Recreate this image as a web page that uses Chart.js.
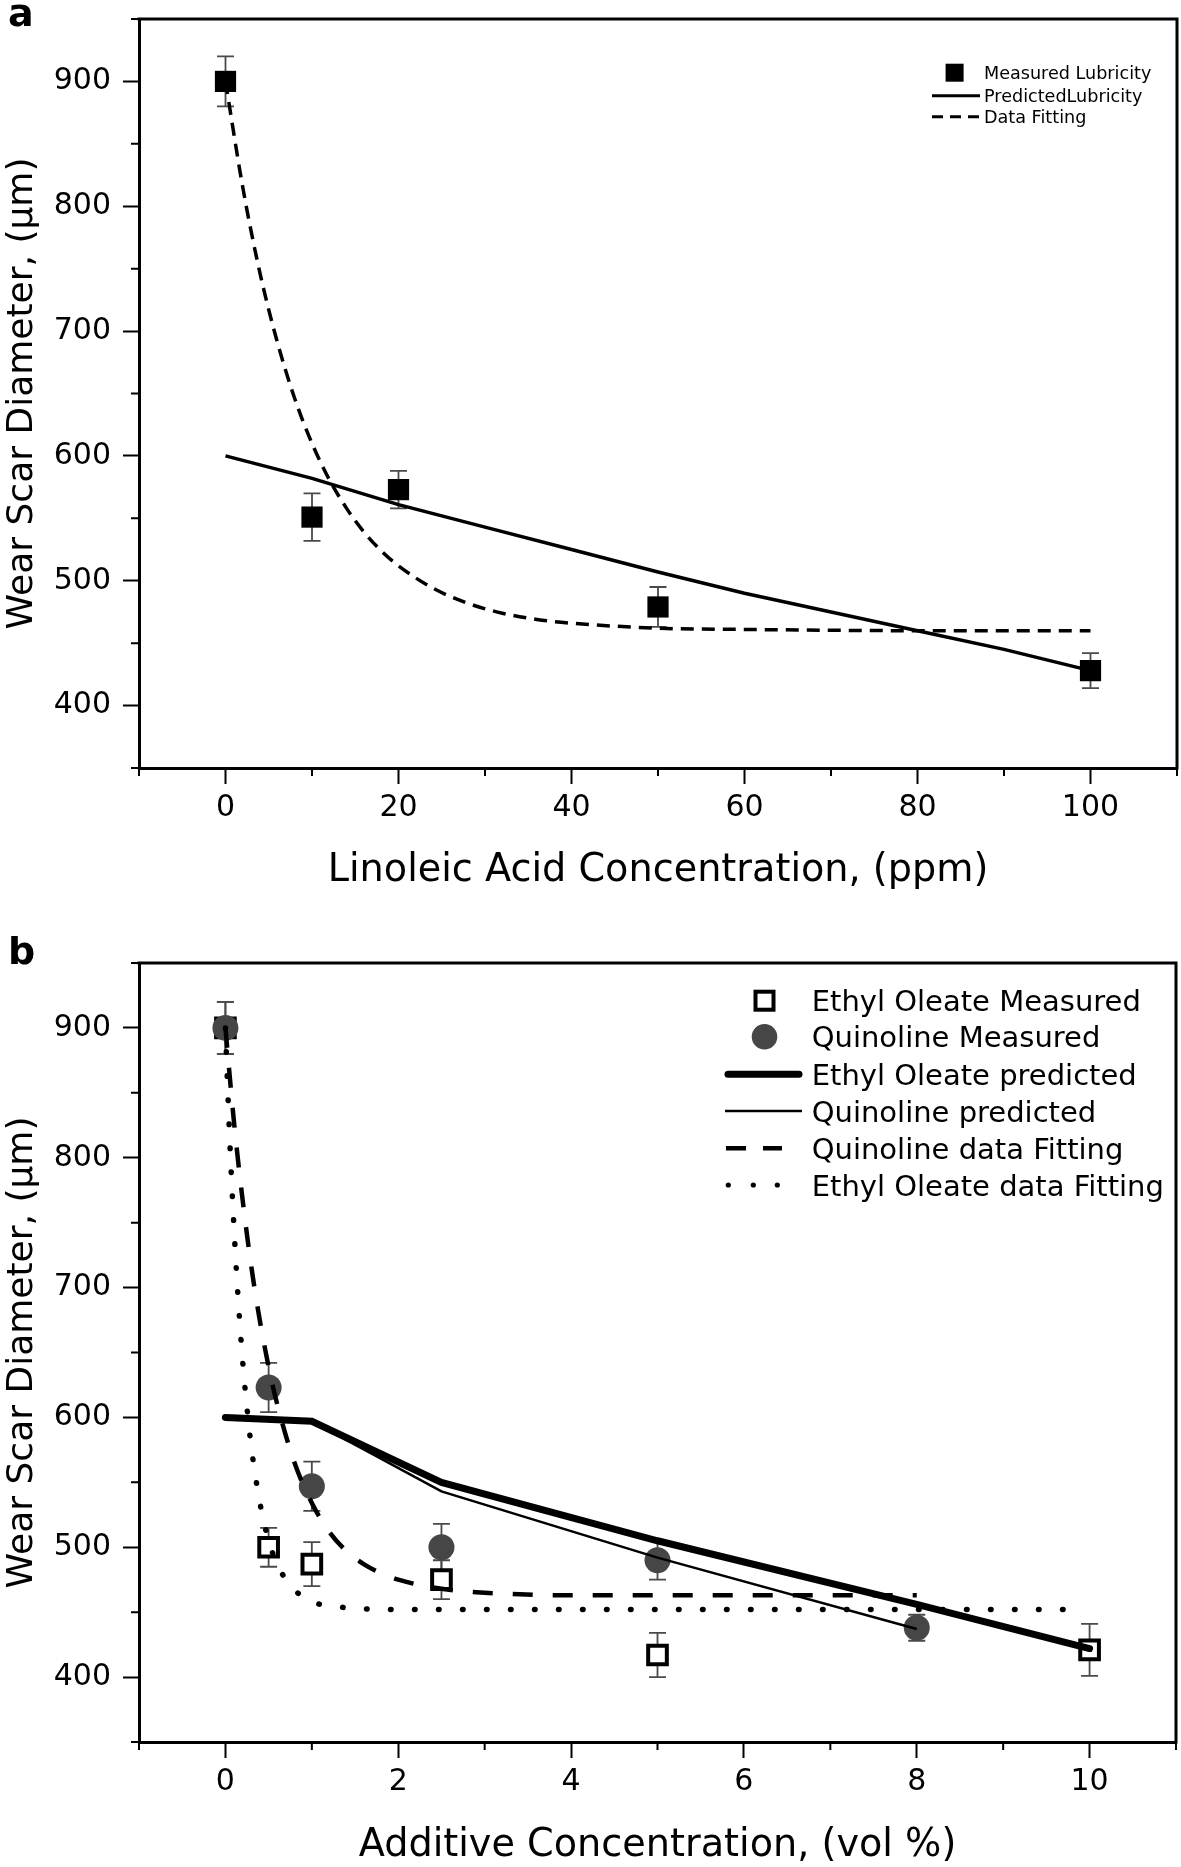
<!DOCTYPE html>
<html><head><meta charset="utf-8">
<script src="https://cdn.jsdelivr.net/npm/chart.js@4.4.1/dist/chart.umd.min.js"></script>
<style>
html,body{margin:0;padding:0;background:#fff;}
#wrap{position:relative;width:1181px;height:1867px;background:#fff;}
canvas{position:absolute;left:0;}
#ca{top:0;}
#cb{top:910px;}
</style></head><body>
<div id="wrap"><canvas id="ca" width="1181" height="910"></canvas><canvas id="cb" width="1181" height="957"></canvas></div>
<script>
const FONT = "'DejaVu Sans', sans-serif";

// ---------- Panel a data ----------
const aMeasX = [0, 10, 20, 50, 100];
const aMeasY = [900, 551, 573, 479, 428];
const aMeasErr = [20, 19, 15, 16, 14];
const aPredX = [0, 10, 20, 30, 40, 50, 60, 70, 80, 90, 100];
const aPredY = [600, 582, 561, 543, 525, 507, 490, 475, 460, 445, 428];
const aFitX = [0, 2, 4, 6, 8, 10, 12, 14, 16, 18, 20, 24, 28, 32, 36, 40, 50, 60, 80, 100];
const aFitY = [900, 815, 746, 691, 646, 610, 581, 558, 539, 524, 512, 494, 482, 474, 469, 466, 462, 461, 460, 460];
const aXTickLabels = [0, 20, 40, 60, 80, 100];
const aLegend = ['Measured Lubricity', 'PredictedLubricity', 'Data Fitting'];

// ---------- Panel b data ----------
const bEOX = [0, 0.5, 1, 2.5, 5, 10];
const bEOY = [900, 500, 487, 475, 417, 421];
const bEOErr = [20, 15, 17, 15, 17, 20];
const bQX = [0, 0.5, 1, 2.5, 5, 8];
const bQY = [900, 623, 547, 500, 490, 438];
const bQErr = [20, 19, 19, 18, 15, 10];
const bEOPredX = [0, 1, 2.5, 5, 8, 10];
const bEOPredY = [600, 597, 550, 505, 456, 422];
const bQPredX = [0, 1, 2.5, 5, 8];
const bQPredY = [600, 597, 543, 492, 437];
const bQFitX = [0, 0.1, 0.2, 0.3, 0.4, 0.5, 0.6, 0.8, 1, 1.2, 1.4, 1.6, 1.8, 2, 2.5, 3, 4, 5, 6, 7, 8];
const bQFitY = [900, 827, 767, 716, 674, 639, 610, 565, 534, 512, 497, 487, 480, 475, 468, 465, 463, 463, 463, 463, 463];
const bEOFitX = [0, 0.05, 0.1, 0.15, 0.2, 0.25, 0.3, 0.4, 0.5, 0.6, 0.7, 0.8, 1, 1.2, 1.5, 2, 3, 5, 7, 9.9];
const bEOFitY = [900, 814, 745, 689, 643, 607, 577, 534, 505, 487, 475, 467, 458, 455, 453, 452, 452, 452, 452, 452];
const bXTickLabels = [0, 2, 4, 6, 8, 10];
const bLegend = ['Ethyl Oleate Measured', 'Quinoline Measured', 'Ethyl Oleate predicted', 'Quinoline predicted', 'Quinoline data Fitting', 'Ethyl Oleate data Fitting'];

// ---------- shared ----------
const yTickLabels = [400, 500, 600, 700, 800, 900];
const yTitle = 'Wear Scar Diameter, (µm)';

function pts(xs, ys) { return xs.map((x, i) => ({ x: x, y: ys[i] })); }

Chart.defaults.color = '#000';
Chart.defaults.font.family = FONT;

function errorBars(sets) {
  return {
    id: 'errorBars',
    beforeDatasetsDraw(chart) {
      const { ctx, scales: { x, y } } = chart;
      ctx.save();
      ctx.strokeStyle = '#4a4a4a';
      ctx.lineWidth = 1.8;
      sets.forEach(s => {
        s.xs.forEach((xv, i) => {
          const px = x.getPixelForValue(xv);
          const t = y.getPixelForValue(s.ys[i] + s.err[i]);
          const b = y.getPixelForValue(s.ys[i] - s.err[i]);
          ctx.beginPath();
          ctx.moveTo(px, t); ctx.lineTo(px, b);
          ctx.moveTo(px - 8.5, t); ctx.lineTo(px + 8.5, t);
          ctx.moveTo(px - 8.5, b); ctx.lineTo(px + 8.5, b);
          ctx.stroke();
        });
      });
      ctx.restore();
    }
  };
}

function frameAndMinor(xLabels, letter, letterY) {
  return {
    id: 'frameMinor',
    afterDraw(chart) {
      const { ctx, chartArea: a, scales: { x, y } } = chart;
      ctx.save();
      ctx.strokeStyle = '#000';
      ctx.lineWidth = 3;
      ctx.beginPath();
      ctx.moveTo(a.left - 1.5, a.top); ctx.lineTo(a.right, a.top); ctx.lineTo(a.right, a.bottom + 1.5);
      ctx.stroke();
      ctx.lineWidth = 2;
      ctx.beginPath();
      x.ticks.forEach(t => {
        if (!xLabels.includes(t.value)) {
          const px = x.getPixelForValue(t.value);
          ctx.moveTo(px, a.bottom); ctx.lineTo(px, a.bottom + 8);
        }
      });
      y.ticks.forEach(t => {
        if (!yTickLabels.includes(t.value)) {
          const py = y.getPixelForValue(t.value);
          ctx.moveTo(a.left, py); ctx.lineTo(a.left - 8, py);
        }
      });
      ctx.stroke();
      ctx.fillStyle = '#000';
      ctx.font = 'bold 38px ' + FONT;
      ctx.textBaseline = 'alphabetic';
      ctx.textAlign = 'left';
      ctx.fillText(letter, 8, letterY);
      ctx.restore();
    }
  };
}

function zeroPad(s) { s.paddingLeft = 0; s.paddingRight = 0; s.paddingTop = 0; s.paddingBottom = 0; }

function makeOptions(c) {
  return {
    responsive: false, animation: false, devicePixelRatio: 1,
    layout: { autoPadding: false, padding: { top: c.top, right: c.right, left: 0, bottom: 0 } },
    plugins: { legend: { display: false }, tooltip: { enabled: false } },
    scales: {
      x: {
        type: 'linear', min: c.xMin, max: c.xMax,
        afterFit: s => { s.height = c.xHeight; zeroPad(s); },
        ticks: {
          stepSize: c.xStep, autoSkip: false, maxRotation: 0, minRotation: 0, padding: 6,
          font: { size: 30 }, color: '#000',
          callback: v => c.xLabels.includes(v) ? String(v) : ''
        },
        grid: {
          drawOnChartArea: false, drawTicks: true, tickLength: 16, tickWidth: 2,
          tickColor: ctx => (ctx.tick && c.xLabels.includes(ctx.tick.value)) ? '#000' : 'rgba(0,0,0,0)'
        },
        border: { display: true, color: '#000', width: 3 },
        title: { display: true, text: c.xTitle, font: { size: 38.2, lineHeight: 1 }, color: '#000', padding: { top: 0, bottom: c.xTitlePad } }
      },
      y: {
        type: 'linear', min: 350, max: 950,
        afterFit: s => { s.width = 139; zeroPad(s); },
        ticks: {
          stepSize: 50, autoSkip: false, padding: 12,
          font: { size: 30 }, color: '#000',
          callback: v => yTickLabels.includes(v) ? String(v) : ''
        },
        grid: {
          drawOnChartArea: false, drawTicks: true, tickLength: 16, tickWidth: 2,
          tickColor: ctx => (ctx.tick && yTickLabels.includes(ctx.tick.value)) ? '#000' : 'rgba(0,0,0,0)'
        },
        border: { display: true, color: '#000', width: 3 },
        title: { display: true, text: yTitle, font: { size: 36 }, color: '#000', padding: { top: 1, bottom: 0 } }
      }
    }
  };
}

// ---------- legend plugins ----------
const legendA = {
  id: 'legendA',
  afterDraw(chart) {
    const ctx = chart.ctx;
    ctx.save();
    ctx.fillStyle = '#000'; ctx.strokeStyle = '#000';
    ctx.font = '17.6px ' + FONT; ctx.textBaseline = 'middle'; ctx.textAlign = 'left';
    const rows = [72.7, 95.7, 116.7];
    ctx.fillRect(954.6 - 9, rows[0] - 9, 18, 18);
    ctx.lineWidth = 3;
    ctx.beginPath(); ctx.moveTo(932, rows[1]); ctx.lineTo(980, rows[1]); ctx.stroke();
    ctx.setLineDash([11, 7]);
    ctx.beginPath(); ctx.moveTo(932, rows[2]); ctx.lineTo(980, rows[2]); ctx.stroke();
    ctx.setLineDash([]);
    aLegend.forEach((t, i) => ctx.fillText(t, 984, rows[i] + 1.5));
    ctx.restore();
  }
};

const legendB = {
  id: 'legendB',
  afterDraw(chart) {
    const ctx = chart.ctx;
    ctx.save();
    ctx.fillStyle = '#000'; ctx.strokeStyle = '#000';
    ctx.font = '29px ' + FONT; ctx.textBaseline = 'middle'; ctx.textAlign = 'left';
    const rows = [90.7, 126.7, 164.3, 201, 238.3, 275];
    const cx = 764.5;
    // open square
    ctx.lineWidth = 4;
    ctx.fillStyle = '#fff';
    ctx.fillRect(cx - 9, rows[0] - 9, 18, 18);
    ctx.strokeRect(cx - 9, rows[0] - 9, 18, 18);
    // circle
    ctx.fillStyle = '#464646';
    ctx.beginPath(); ctx.arc(cx, rows[1], 12.8, 0, Math.PI * 2); ctx.fill();
    // thick line
    ctx.lineCap = 'round';
    ctx.lineWidth = 7;
    ctx.beginPath(); ctx.moveTo(728, rows[2]); ctx.lineTo(799, rows[2]); ctx.stroke();
    ctx.lineCap = 'butt';
    ctx.lineWidth = 2.5;
    ctx.beginPath(); ctx.moveTo(725, rows[3]); ctx.lineTo(802, rows[3]); ctx.stroke();
    ctx.lineWidth = 4.5;
    ctx.beginPath(); ctx.moveTo(726, rows[4]); ctx.lineTo(746, rows[4]); ctx.moveTo(763, rows[4]); ctx.lineTo(782, rows[4]); ctx.stroke();
    ctx.fillStyle = '#000';
    [728.3, 753.3, 777.3].forEach(d => { ctx.beginPath(); ctx.arc(d, rows[5], 2.6, 0, Math.PI * 2); ctx.fill(); });
    bLegend.forEach((t, i) => ctx.fillText(t, 811.7, rows[i] + 3));
    ctx.restore();
  }
};

// ---------- Chart a ----------
new Chart(document.getElementById('ca'), {
  type: 'scatter',
  data: {
    datasets: [
      { label: aLegend[0], data: pts(aMeasX, aMeasY), pointStyle: 'rect', pointRadius: 15, backgroundColor: '#000', borderColor: '#000', borderWidth: 0, showLine: false, order: 0 },
      { label: aLegend[1], data: pts(aPredX, aPredY), showLine: true, pointRadius: 0, borderColor: '#000', borderWidth: 3.5, tension: 0, order: 1 },
      { label: aLegend[2], data: pts(aFitX, aFitY), showLine: true, pointRadius: 0, borderColor: '#000', borderWidth: 3.5, borderDash: [13, 8], cubicInterpolationMode: 'monotone', order: 2 }
    ]
  },
  options: makeOptions({ top: 19, right: 4, xMin: -10, xMax: 110, xStep: 10, xLabels: aXTickLabels, xHeight: 142, xTitle: 'Linoleic Acid Concentration, (ppm)', xTitlePad: 19.8 }),
  plugins: [errorBars([{ xs: aMeasX, ys: aMeasY, err: aMeasErr }]), frameAndMinor(aXTickLabels, 'a', 26), legendA]
});

// ---------- Chart b ----------
new Chart(document.getElementById('cb'), {
  type: 'scatter',
  data: {
    datasets: [
      { label: bLegend[2], data: pts(bEOPredX, bEOPredY), showLine: true, pointRadius: 0, borderColor: '#000', borderWidth: 7, borderCapStyle: 'round', tension: 0, order: 0 },
      { label: bLegend[3], data: pts(bQPredX, bQPredY), showLine: true, pointRadius: 0, borderColor: '#000', borderWidth: 2.5, tension: 0, order: 1 },
      { label: bLegend[4], data: pts(bQFitX, bQFitY), showLine: true, pointRadius: 0, borderColor: '#000', borderWidth: 4.5, borderDash: [20, 20], cubicInterpolationMode: 'monotone', order: 2 },
      { label: bLegend[5], data: pts(bEOFitX, bEOFitY), showLine: true, pointRadius: 0, borderColor: '#000', borderWidth: 5.5, borderDash: [0.5, 23.5], borderCapStyle: 'round', cubicInterpolationMode: 'monotone', order: 3 },
      { label: bLegend[1], data: pts(bQX, bQY), pointStyle: 'circle', pointRadius: 13, backgroundColor: '#464646', borderColor: '#464646', borderWidth: 0, showLine: false, order: 4 },
      { label: bLegend[0], data: pts(bEOX, bEOY), pointStyle: 'rect', pointRadius: 13.2, backgroundColor: '#fff', borderColor: '#000', borderWidth: 4, showLine: false, order: 5 }
    ]
  },
  options: makeOptions({ top: 53, right: 5, xMin: -1, xMax: 11, xStep: 1, xLabels: bXTickLabels, xHeight: 125, xTitle: 'Additive Concentration, (vol %)', xTitlePad: 1.8 }),
  plugins: [errorBars([{ xs: bEOX, ys: bEOY, err: bEOErr }, { xs: bQX, ys: bQY, err: bQErr }]), frameAndMinor(bXTickLabels, 'b', 54), legendB]
});
</script>
</body></html>
